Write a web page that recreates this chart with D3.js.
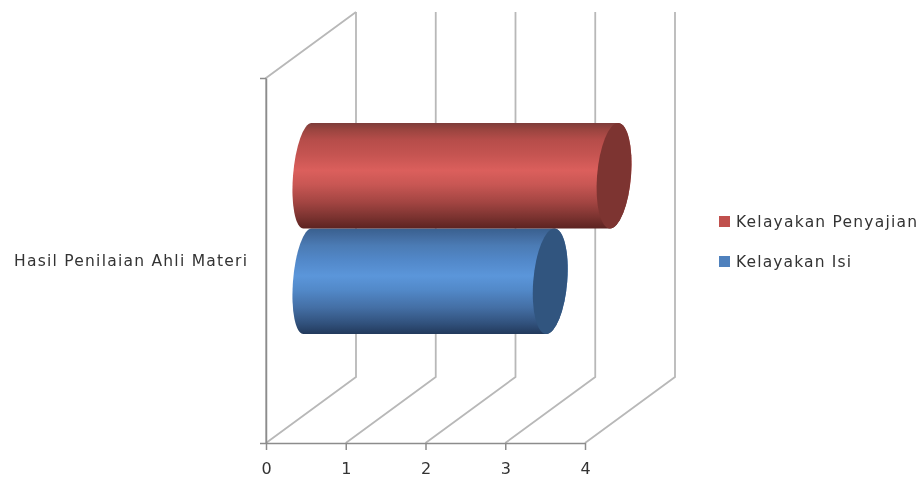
<!DOCTYPE html>
<html>
<head>
<meta charset="utf-8">
<script src="https://cdn.jsdelivr.net/npm/d3@7"></script>
<style>
html, body { margin: 0; padding: 0; background: #fff; }
svg { display: block; filter: blur(0.45px); }
text { font-family: "DejaVu Sans", sans-serif; fill: #333; }
</style>
</head>
<body>
<div id="chart-area"></div>
<script>
// Data
var categories = ["Hasil Penilaian Ahli Materi"];
var series = ["Kelayakan Penyajian", "Kelayakan Isi"];
var values = [3.8, 3.0];
var colors = ["#c0504d", "#4f81bd"];
var capColors = ["#7d3431", "#31557f"];
var xTicks = [0, 1, 2, 3, 4];

// top-to-bottom shading of each cylinder
var gradOffsets = [0, 0.06, 0.16, 0.3, 0.45, 0.58, 0.75, 0.9, 1];
var gradShades = [
	["#7d3c3a", "#99443f", "#b64d4a", "#c55451", "#db5f5c", "#c95754", "#a34542", "#79322f", "#5c2321"],
	["#38608f", "#41699c", "#4b7bb4", "#5288c9", "#5b96da", "#5289c9", "#446fa5", "#31517c", "#223a5c"]
];

var svg = d3.select("#chart-area")
	.append("svg")
	.attr("width", 918)
	.attr("height", 479);

// Scales (front plane of the 3D box)
var depthX = 90, depthY = -66;
var x = d3.scaleLinear().domain([0, 4]).range([266, 585]);
var yCat = d3.scaleBand().domain(categories).range([78, 443]);
var ySeries = d3.scaleBand().domain(series)
	.range([yCat(categories[0]) + 78, yCat(categories[0]) + yCat.bandwidth() - 76]);

var gridColor = "#b8b8b8", axisColor = "#8c8c8c";

// Gridlines: floor diagonal + back wall vertical
var gridLine = d3.line();
svg.append("g").selectAll("path")
	.data(xTicks)
	.enter().append("path")
	.attr("fill", "none")
	.attr("stroke", gridColor)
	.attr("stroke-width", 1.8)
	.attr("d", d => gridLine([
		[x(d), 443],
		[x(d) + depthX, 443 + depthY],
		[x(d) + depthX, 78 + depthY]
	]));

// Left wall
svg.append("path")
	.attr("fill", "none")
	.attr("stroke", gridColor)
	.attr("stroke-width", 1.8)
	.attr("d", gridLine([[266, 443], [266, 78], [266 + depthX, 78 + depthY]]));

// Axes
var xAxisCall = d3.axisBottom(x).tickValues(xTicks).tickFormat(d3.format("d"))
	.tickSize(7).tickSizeOuter(0).tickPadding(13);
var xAxis = svg.append("g")
	.attr("transform", "translate(0,443)")
	.call(xAxisCall);
xAxis.selectAll("text").attr("font-size", "16px").style("font-family", '"DejaVu Sans", sans-serif');
xAxis.selectAll("line").attr("stroke", axisColor).attr("stroke-width", 1.5);
xAxis.select(".domain").attr("stroke", axisColor).attr("stroke-width", 1.5);

var yAxisCall = d3.axisLeft(d3.scaleLinear().domain([0, 1]).range([443, 78]))
	.tickValues([0, 1]).tickFormat("").tickSize(6).tickSizeOuter(0);
var yAxis = svg.append("g")
	.attr("transform", "translate(266,0)")
	.call(yAxisCall);
yAxis.selectAll("line").attr("stroke", axisColor).attr("stroke-width", 1.5);
yAxis.select(".domain").attr("stroke", axisColor).attr("stroke-width", 1.5);

svg.append("text")
	.attr("x", 14)
	.attr("y", yCat(categories[0]) + yCat.bandwidth() / 2 + 5)
	.attr("font-size", "15.5px")
	.attr("textLength", 233)
	.text(categories[0]);

// Gradients
var defs = svg.append("defs");
series.forEach((s, i) => {
	var grad = defs.append("linearGradient")
		.attr("id", "grad" + i)
		.attr("x1", 0).attr("y1", 0).attr("x2", 0).attr("y2", 1);
	gradOffsets.forEach((o, k) => {
		grad.append("stop").attr("offset", o).attr("stop-color", gradShades[i][k]);
	});
});

// Cylinders, drawn blue first so red sits on top
var rxLeft = 14.5, rxRight = 17;
var skew = Math.atan(-4 / 52) * 180 / Math.PI;
var bars = series.map((s, i) => ({ name: s, value: values[i], i: i })).reverse();
var barG = svg.append("g").selectAll("g")
	.data(bars)
	.enter().append("g")
	.attr("transform", d => "translate(" + (depthX / 2) + "," + (ySeries(d.name) + ySeries.bandwidth() / 2 + depthY / 2) + ") skewX(" + skew + ")");

barG.append("path")
	.attr("fill", d => "url(#grad" + d.i + ")")
	.attr("d", d => {
		var r = ySeries.bandwidth() / 2, x0 = x(0) - 3.5, x1 = x(d.value);
		return "M" + x0 + "," + (-r) + "L" + x1 + "," + (-r) +
			"A" + rxRight + "," + r + " 0 0 1 " + x1 + "," + r +
			"L" + x0 + "," + r +
			"A" + rxLeft + "," + r + " 0 0 1 " + x0 + "," + (-r) + "Z";
	});

barG.append("ellipse")
	.attr("cx", d => x(d.value))
	.attr("cy", 0)
	.attr("rx", rxRight)
	.attr("ry", ySeries.bandwidth() / 2)
	.attr("fill", d => capColors[d.i]);

// Legend
var legend = svg.append("g").selectAll("g")
	.data(series)
	.enter().append("g")
	.attr("transform", (d, i) => "translate(719," + (216 + i * 40) + ")");
legend.append("rect")
	.attr("width", 11)
	.attr("height", 11)
	.attr("fill", (d, i) => colors[i]);
legend.append("text")
	.attr("x", 17)
	.attr("y", 11)
	.attr("font-size", "15.5px")
	.attr("textLength", (d, i) => i == 0 ? 181 : 115)
	.text(d => d);
</script>
</body>
</html>
